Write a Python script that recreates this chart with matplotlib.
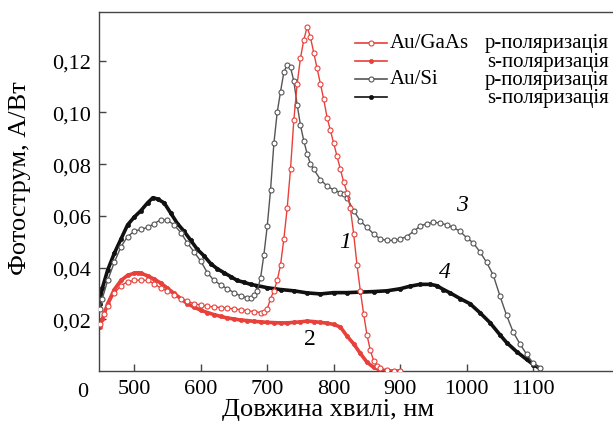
"""Photocurrent spectra of Au/GaAs and Au/Si structures for p- and s-polarisation."""

import matplotlib

matplotlib.use("Agg")
import matplotlib.pyplot as plt
from matplotlib.lines import Line2D

plt.rcParams.update(
    {
        "font.family": ["Liberation Serif", "DejaVu Serif"],
        "font.size": 16,
        "axes.linewidth": 1.0,
        "axes.edgecolor": "#444444",
    }
)

RED = "#e8403a"
GRAY = "#555555"
BLACK = "#111111"

# --- data (wavelength, nm ; photocurrent, A/W) -----------------------------
gaas_p_x = [448, 455, 460, 470, 480, 490, 500, 510, 520, 530, 540, 550, 560,
            570, 580, 590, 600, 610, 620, 630, 640, 650, 660, 670, 680, 690,
            695, 700, 705, 710, 715, 720, 725, 730, 735, 740, 745, 750, 755,
            760, 765, 770, 775, 780, 785, 790, 795, 800, 805, 810, 815, 820,
            825, 830, 835, 840, 845, 850, 855, 860, 865, 870, 880, 890, 900]
gaas_p_y = [0.018, 0.022, 0.025, 0.030, 0.033, 0.0345, 0.035, 0.0352, 0.035,
            0.0338, 0.032, 0.031, 0.0295, 0.028, 0.027, 0.026, 0.0255, 0.025,
            0.0248, 0.0245, 0.0243, 0.024, 0.0237, 0.0233, 0.023, 0.0226,
            0.0228, 0.024, 0.028, 0.031, 0.035, 0.041, 0.051, 0.063, 0.078,
            0.097, 0.111, 0.121, 0.128, 0.133, 0.129, 0.123, 0.117, 0.111,
            0.105, 0.098, 0.093, 0.088, 0.083, 0.078, 0.073, 0.069, 0.063,
            0.053, 0.041, 0.031, 0.022, 0.014, 0.008, 0.004, 0.002, 0.001,
            0.0003, 0.0, 0.0]

gaas_s_x = [448, 452, 460, 470, 480, 490, 500, 505, 510, 520, 530, 540, 550,
            560, 570, 580, 590, 600, 610, 620, 630, 640, 650, 660, 670, 680,
            690, 700, 710, 720, 730, 740, 750, 760, 770, 780, 790, 800, 810,
            820, 830, 840, 850, 860, 870, 880, 890, 900]
gaas_s_y = [0.017, 0.020, 0.026, 0.0315, 0.035, 0.037, 0.0378, 0.038, 0.0378,
            0.0368, 0.0355, 0.034, 0.032, 0.030, 0.028, 0.026, 0.0247, 0.0235,
            0.0226, 0.0218, 0.0211, 0.0205, 0.0201, 0.0197, 0.0195, 0.0192,
            0.019, 0.0188, 0.0187, 0.0186, 0.0186, 0.0188, 0.019, 0.0193,
            0.0191, 0.0188, 0.0185, 0.018, 0.017, 0.0135, 0.0105, 0.0068,
            0.0034, 0.0014, 0.0004, 0.0001, 0.0, 0.0]

si_p_x = [448, 452, 460, 470, 480, 490, 500, 510, 520, 530, 540, 550, 560, 570,
          580, 590, 600, 610, 620, 630, 640, 650, 660, 670, 675, 680, 685, 690,
          695, 700, 705, 710, 715, 720, 725, 730, 735, 740, 745, 750, 755, 760,
          765, 770, 780, 790, 800, 810, 815, 820, 830, 840, 850, 860, 870, 880,
          890, 900, 910, 920, 930, 940, 950, 960, 970, 980, 990, 1000, 1010,
          1020, 1030, 1040, 1050, 1060, 1070, 1080, 1090, 1100, 1110]
si_p_y = [0.024, 0.028, 0.035, 0.042, 0.048, 0.052, 0.054, 0.0548, 0.0555,
          0.057, 0.0585, 0.0583, 0.0565, 0.0535, 0.0495, 0.046, 0.0425, 0.038,
          0.035, 0.0333, 0.0318, 0.0303, 0.029, 0.0283, 0.0283, 0.0293, 0.031,
          0.036, 0.045, 0.056, 0.070, 0.088, 0.100, 0.108, 0.1155, 0.1185,
          0.1175, 0.112, 0.103, 0.095, 0.089, 0.084, 0.080, 0.078, 0.074,
          0.0715, 0.070, 0.069, 0.0685, 0.067, 0.062, 0.058, 0.0555, 0.053,
          0.051, 0.0505, 0.0505, 0.051, 0.052, 0.054, 0.056, 0.057, 0.0575,
          0.0572, 0.0565, 0.0555, 0.054, 0.0515, 0.0495, 0.046, 0.042, 0.037,
          0.029, 0.0215, 0.015, 0.0105, 0.0065, 0.003, 0.001]

si_s_x = [448, 452, 460, 470, 480, 490, 500, 510, 520, 528, 535, 545, 555, 565,
          575, 585, 595, 605, 615, 625, 635, 645, 655, 665, 675, 685, 700, 720,
          740, 760, 780, 800, 820, 840, 860, 880, 900, 915, 930, 945, 955, 965,
          975, 990, 1005, 1020, 1035, 1050, 1060, 1075, 1090, 1100, 1110]
si_s_y = [0.026, 0.032, 0.039, 0.0455, 0.051, 0.0565, 0.0595, 0.062, 0.065,
          0.067, 0.0665, 0.065, 0.061, 0.057, 0.054, 0.0505, 0.047, 0.0445,
          0.0415, 0.0395, 0.038, 0.0365, 0.035, 0.0343, 0.0335, 0.033, 0.0322,
          0.0315, 0.031, 0.0302, 0.0298, 0.0303, 0.0303, 0.0305, 0.0307,
          0.031, 0.0318, 0.0328, 0.0335, 0.0335, 0.033, 0.0315, 0.0302, 0.028,
          0.026, 0.0225, 0.0187, 0.014, 0.011, 0.0075, 0.0045, 0.0025, 0.001]

x_ticks = [500, 600, 700, 800, 900, 1000, 1100]
y_ticks = [0.02, 0.04, 0.06, 0.08, 0.10, 0.12]
y_tick_labels = ["0,02", "0,04", "0,06", "0,08", "0,10", "0,12"]

curve_numbers = ["1", "2", "3", "4"]
curve_number_pos = [(817, 0.050), (764, 0.0125), (993, 0.0645), (967, 0.0385)]
curve_number_style = ["italic", "normal", "italic", "italic"]


def open_style(color):
    return dict(color=color, lw=1.0, marker="o", ms=3.6, mfc="white",
                mec=color, mew=0.8)


def filled_style(color):
    return dict(color=color, lw=2.6, marker="o", ms=3.0, mfc=color,
                mec=color, mew=0.5)


fig = plt.figure(figsize=(6.13, 4.31), dpi=100)
ax = fig.add_axes([99 / 613, 59 / 431, 514 / 613, 359 / 431])

ax.plot(si_s_x, si_s_y, **filled_style(BLACK), zorder=2)
ax.plot(si_p_x, si_p_y, **open_style(GRAY), zorder=3)
ax.plot(gaas_s_x, gaas_s_y, **filled_style(RED), zorder=2)
ax.plot(gaas_p_x, gaas_p_y, **open_style(RED), zorder=4)

ax.set_xlim(447, 1220)
ax.set_ylim(0, 0.1388)
ax.spines["right"].set_visible(False)
ax.set_xticks(x_ticks)
ax.set_yticks(y_ticks)
ax.set_yticklabels(y_tick_labels)
ax.tick_params(direction="in", length=5, width=1.0, color="#444444",
               labelsize=16, pad=6)

ax.set_xlabel("Довжина хвилі, нм", fontsize=19)
ax.set_ylabel("Фотострум, А/Вт", fontsize=19)
ax.xaxis.set_label_coords((328 - 99) / 514, -(410 - 372) / 359)
ax.yaxis.set_label_coords(-(99 - 20) / 514, (372 - 178) / 359)
ax.xaxis.label.set_va("center")
ax.yaxis.label.set_va("center")
fig.text(83 / 613, 1 - 393 / 431, "0", fontsize=16, ha="center", va="center")

for label, (lx, ly), st in zip(curve_numbers, curve_number_pos, curve_number_style):
    ax.text(lx, ly, label, fontsize=17, style=st, ha="center", va="center")

# hand-made legend: line sample, material, polarisation
legend_rows = [
    (open_style(RED), "Au/GaAs", "p-поляризація"),
    (filled_style(RED), "", "s-поляризація"),
    (open_style(GRAY), "Au/Si", "p-поляризація"),
    (filled_style(BLACK), "", "s-поляризація"),
]
row_y = [44, 62, 80, 98]
for (st, mat, pol), py in zip(legend_rows, row_y):
    yf = 1 - py / 431
    fig.add_artist(Line2D([355 / 613, 387 / 613], [yf, yf], color=st["color"],
                          lw=1.2))
    fig.add_artist(Line2D([371 / 613], [yf], marker="o", ms=st["ms"],
                          mfc=st["mfc"], mec=st["mec"], mew=st["mew"],
                          color=st["color"]))
    if mat:
        fig.text(390 / 613, yf, mat, fontsize=15, va="center", ha="left")
    fig.text(609 / 613, yf, pol, fontsize=15, va="center", ha="right")

fig.savefig("out.png", dpi=100)
